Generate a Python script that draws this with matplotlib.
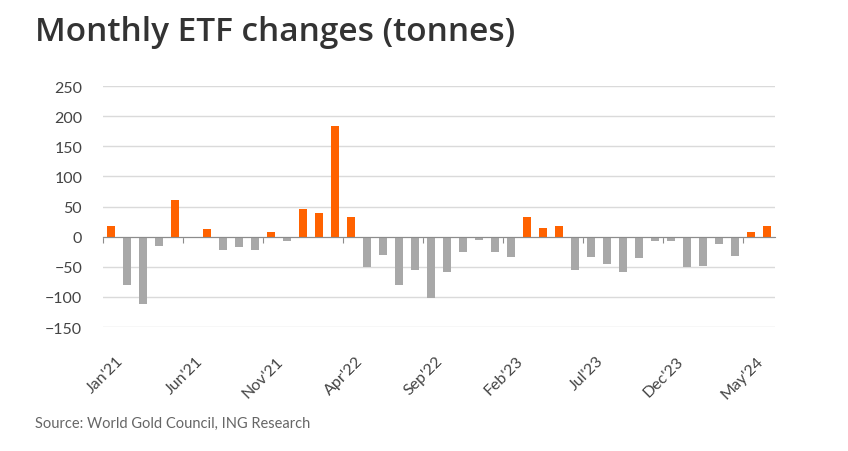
import numpy as np
import matplotlib
matplotlib.use("Agg")
import matplotlib.pyplot as plt

plt.rcParams['font.family'] = ['Lato', 'DejaVu Sans']

# monthly gold ETF flows, Jan'21 .. Jun'24 (tonnes)
months = ["Jan'21", "Feb'21", "Mar'21", "Apr'21", "May'21", "Jun'21", "Jul'21", "Aug'21",
          "Sep'21", "Oct'21", "Nov'21", "Dec'21", "Jan'22", "Feb'22", "Mar'22", "Apr'22",
          "May'22", "Jun'22", "Jul'22", "Aug'22", "Sep'22", "Oct'22", "Nov'22", "Dec'22",
          "Jan'23", "Feb'23", "Mar'23", "Apr'23", "May'23", "Jun'23", "Jul'23", "Aug'23",
          "Sep'23", "Oct'23", "Nov'23", "Dec'23", "Jan'24", "Feb'24", "Mar'24", "Apr'24",
          "May'24", "Jun'24"]
changes = [18, -80, -111, -15, 61, -3, 12, -23, -18, -23, 8, -7, 46, 40, 184, 32,
           -50, -30, -81, -56, -102, -58, -25, -6, -25, -33, 32, 14, 18, -55,
           -33, -45, -59, -36, -8, -8, -51, -49, -13, -32, 8, 17]

orange = '#FF6200'
grey = '#A8A8A8'

x = np.arange(len(changes))
vals = np.array(changes)
colors = [orange if v > 0 else grey for v in vals]

fig = plt.figure(figsize=(8.48, 4.52), dpi=100)
ax = fig.add_axes([0.1215, 0.2743, 0.7925, 0.5332])

ax.bar(x, vals, width=0.55, color=colors, zorder=3)

ax.set_xlim(-0.5, len(changes) - 0.5)
ax.set_ylim(-150, 250)
ax.set_yticks(np.arange(-150, 251, 50))
ax.yaxis.grid(True, color='#DADADA', linewidth=1)
ax.set_axisbelow(True)
for s in ['top', 'right', 'left']:
    ax.spines[s].set_visible(False)
ax.tick_params(axis='y', length=0, pad=15, labelsize=11.5, labelcolor='#444444')

# zero axis with small ticks between category groups
ax.spines['bottom'].set_position(('data', 0))
ax.spines['bottom'].set_color('#8C8C8C')
ax.spines['bottom'].set_zorder(4)
ax.set_xticks(np.arange(-0.5, len(changes), 5))
ax.tick_params(axis='x', length=4, color='#8C8C8C', labelbottom=False)

# month labels along the bottom
sec = ax.secondary_xaxis(0.0)
sec.set_xticks(x[::5] + 0.3)
sec.set_xticklabels(months[::5], rotation=45, ha='right', rotation_mode='anchor',
                    fontsize=11.5, color='#444444')
sec.tick_params(length=0, pad=19)
sec.spines['bottom'].set_visible(False)

fig.text(0.041, 0.929, 'Monthly ETF changes (tonnes)', fontsize=24, fontweight='semibold',
         family=['Open Sans', 'Lato', 'DejaVu Sans'],
         color='#333333', ha='left', va='center')
fig.text(0.041, 0.062, 'Source: World Gold Council, ING Research', fontsize=10.5,
         color='#666666', ha='left', va='center')

fig.savefig('out.png', dpi=100)
